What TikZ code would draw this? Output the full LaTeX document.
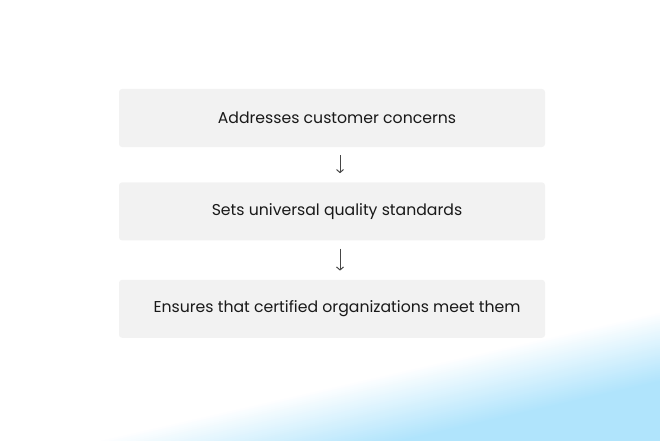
\documentclass[tikz,border=0pt]{standalone}
\usepackage{fontspec}
\setmainfont{Poppins}
\usepackage{tikz}
\usetikzlibrary{arrows.meta}
\usetikzlibrary{positioning}
\definecolor{boxgray}{RGB}{242,242,242}
\definecolor{skyblue}{RGB}{176,228,252}
\definecolor{arrowgray}{RGB}{70,70,70}

\begin{document}
\begin{tikzpicture}[x=1pt, y=1pt,
				   stepbox/.style={rectangle, fill=boxgray, rounded corners=3pt, minimum width=426pt, minimum height=58pt, font=\fontsize{15.7}{18}\selectfont, text=black!90},
				   flow/.style={-{Straight Barb[length=3pt, width=7pt]}, arrowgray, line width=1pt, shorten <=8pt, shorten >=9pt}]
\useasboundingbox (0,0) rectangle (660,440);
% soft blue corner
\begin{scope}
	\clip (0,0) rectangle (660,440);
	\foreach \i in {0,...,35} {
		\pgfmathsetmacro{\d}{35-2*\i}
		\pgfmathsetmacro{\p}{100*\i/35}
		\fill[skyblue!\p!white] (-10,-10) -- (-10,{39+0.229*(-430)+\d}) -- (670,{39+0.229*250+\d}) -- (670,-10) -- cycle;
	}
\end{scope}
\node[stepbox] (concerns) at (332,322) {\hspace*{10pt}Addresses customer concerns};
\node[stepbox, below=35pt of concerns] (standards) {\hspace*{10pt}Sets universal quality standards};
\node[stepbox, below=39pt of standards] (certified) {\hspace*{10pt}Ensures that certified organizations meet them};
\draw[flow] ([xshift=8pt]concerns.south) -- ([xshift=8pt]standards.north);
\draw[flow] ([xshift=8pt]standards.south) -- ([xshift=8pt]certified.north);
\end{tikzpicture}
\end{document}
